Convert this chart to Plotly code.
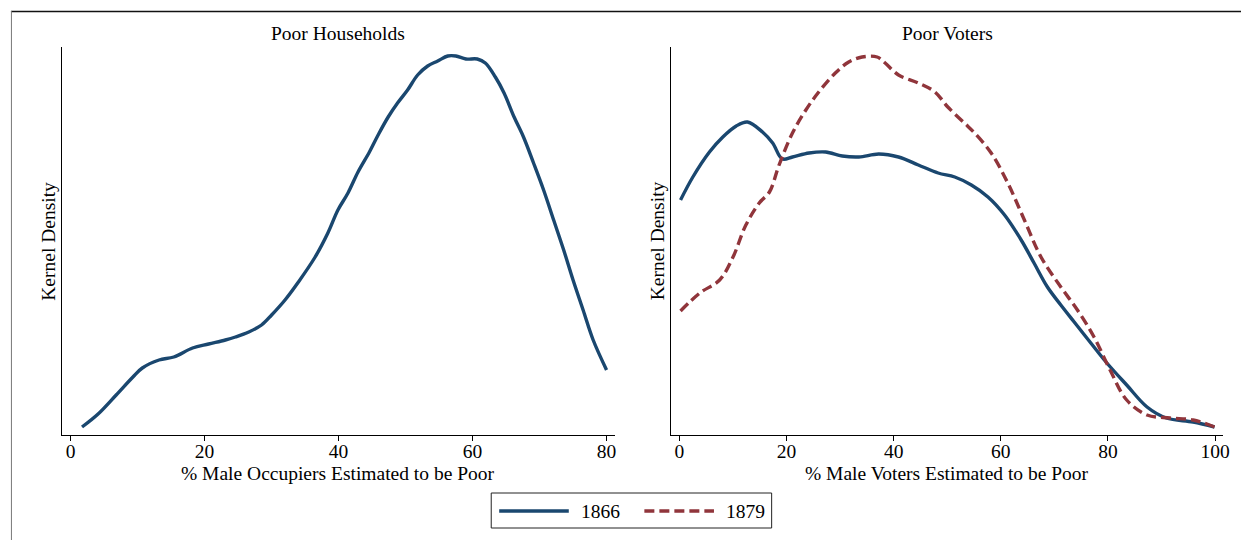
import plotly.graph_objects as go

# Kernel density estimates, share of men estimated to be poor (%)
hh_pct = [1.7, 4.1, 6.8, 9.3, 10.7, 13.2, 15.4, 18.2, 20.6, 23.1, 24.6, 26.6, 28.5, 30.0,
          32.0, 34.0, 36.5, 38.4, 39.9, 41.4, 42.9, 44.6, 45.9, 47.4, 48.8, 50.3, 51.8,
          53.3, 54.8, 56.3, 57.5, 59.0, 60.7, 61.9, 63.4, 64.7, 66.2, 67.6, 69.1, 70.6,
          72.1, 73.6, 75.0, 76.5, 78.0, 80.0]
hh_density = [0.0003, 0.00095, 0.0019, 0.0028, 0.00325, 0.00365, 0.0038, 0.00425, 0.00445,
              0.00465, 0.0048, 0.00505, 0.0054, 0.0059, 0.00665, 0.00755, 0.0088, 0.0100,
              0.01115, 0.0120, 0.01305, 0.01405, 0.0149, 0.0158, 0.0165, 0.01715, 0.0179,
              0.01835, 0.0186, 0.01885, 0.01885, 0.0187, 0.0187, 0.0185, 0.0178, 0.0170,
              0.0158, 0.0148, 0.0135, 0.01215, 0.01065, 0.00915, 0.00765, 0.00615, 0.00465,
              0.00315]

v1866_pct = [0.2, 2.5, 5.6, 8.1, 10.6, 12.7, 15.5, 17.4, 19.2, 21.1, 24.2, 27.3, 30.4, 33.5,
             37.2, 40.9, 44.6, 48.3, 51.4, 54.5, 57.6, 60.7, 63.8, 66.2, 68.7, 71.2, 73.7,
             76.8, 79.8, 83.5, 87.3, 90.9, 95.9, 99.9]
v1866_density = [0.01165, 0.0128, 0.01405, 0.0148, 0.01535, 0.01555, 0.01505, 0.0145, 0.0137,
                 0.0138, 0.0140, 0.01405, 0.01385, 0.0138, 0.01395, 0.0138, 0.0134, 0.0130,
                 0.0128, 0.0124, 0.0118, 0.0109, 0.00965, 0.0085, 0.0073, 0.0064, 0.00555,
                 0.0045, 0.0035, 0.0024, 0.0013, 0.00075, 0.00055, 0.0003]

v1879_pct = [0.2, 3.8, 7.5, 10.0, 12.4, 14.9, 16.8, 18.6, 21.1, 23.6, 26.0, 29.1, 31.6, 34.1,
             36.9, 38.4, 40.9, 44.6, 47.7, 50.1, 53.2, 55.1, 58.2, 61.3, 64.4, 67.5, 71.2,
             74.3, 77.4, 80.4, 83.5, 87.3, 91.6, 95.9, 99.9]
v1879_density = [0.0061, 0.0070, 0.00765, 0.0088, 0.0104, 0.0115, 0.01205, 0.0134, 0.0150,
                 0.01615, 0.01705, 0.0180, 0.01855, 0.0188, 0.0188, 0.0185, 0.0179, 0.0175,
                 0.01705, 0.0163, 0.0155, 0.0150, 0.0140, 0.0125, 0.01065, 0.0088, 0.0073,
                 0.00615, 0.0048, 0.00315, 0.00165, 0.0009, 0.00075, 0.00065, 0.0003]

left_ticks = [0, 20, 40, 60, 80]
right_ticks = [0, 20, 40, 60, 80, 100]
panel_titles = ["Poor Households", "Poor Voters"]
x_titles = ["% Male Occupiers Estimated to be Poor", "% Male Voters Estimated to be Poor"]
y_title = "Kernel Density"
legend_labels = ["1866", "1879"]

NAVY = "#1a476f"
MAROON = "#90353b"
FONT = "Liberation Serif"
FS = 19.5
W, H = 1248, 540


def px(x):
    return x / W


def py(y):
    return 1 - y / H


fig = go.Figure()
fig.add_trace(go.Scatter(x=hh_pct, y=hh_density, mode="lines", xaxis="x", yaxis="y",
                         line=dict(color=NAVY, width=3.4, shape="spline"), showlegend=False))
fig.add_trace(go.Scatter(x=v1866_pct, y=v1866_density, mode="lines", xaxis="x2", yaxis="y2",
                         line=dict(color=NAVY, width=3.4, shape="spline"), showlegend=False))
fig.add_trace(go.Scatter(x=v1879_pct, y=v1879_density, mode="lines", xaxis="x2", yaxis="y2",
                         line=dict(color=MAROON, width=3.4, dash="10px,5px", shape="spline"),
                         showlegend=False))

ydom = [py(435), py(47)]
axis_common = dict(showgrid=False, zeroline=False, showline=True, linecolor="black",
                   linewidth=1, ticks="outside", ticklen=5, tickcolor="black",
                   ticklabelstandoff=-6,
                   tickfont=dict(family=FONT, size=FS, color="black"))
yaxis_common = dict(showgrid=False, zeroline=False, showline=True, linecolor="black",
                    linewidth=1, showticklabels=False, ticks="", range=[-0.0001, 0.0193],
                    domain=ydom)

fig.update_layout(
    width=W, height=H, margin=dict(l=0, r=0, t=0, b=0),
    paper_bgcolor="white", plot_bgcolor="white",
    xaxis=dict(axis_common, domain=[px(62), px(618)], range=[-1.34, 81.19],
               tickvals=left_ticks, anchor="y"),
    yaxis=dict(yaxis_common, anchor="x"),
    xaxis2=dict(axis_common, domain=[px(675), px(1230)], range=[-1.54, 101.5],
                tickvals=right_ticks, anchor="y2"),
    yaxis2=dict(yaxis_common, anchor="x2"),
)

annotations = []
for cx, title, xt, yx in [(340, panel_titles[0], x_titles[0], 48),
                          (952.5, panel_titles[1], x_titles[1], 661)]:
    annotations.append(dict(x=px(cx), y=py(33), xref="paper", yref="paper", text=title,
                            showarrow=False, xanchor="center", yanchor="middle",
                            font=dict(family=FONT, size=FS, color="black")))
    annotations.append(dict(x=px(cx), y=py(473), xref="paper", yref="paper", text=xt,
                            showarrow=False, xanchor="center", yanchor="middle",
                            font=dict(family=FONT, size=FS, color="black")))
    annotations.append(dict(x=px(yx), y=py(241), xref="paper", yref="paper", text=y_title,
                            showarrow=False, textangle=-90, xanchor="center", yanchor="middle",
                            font=dict(family=FONT, size=FS, color="black")))

# legend box
annotations.append(dict(x=px(582), y=py(511), xref="paper", yref="paper", text=legend_labels[0],
                        showarrow=False, xanchor="left", yanchor="middle",
                        font=dict(family=FONT, size=FS, color="black")))
annotations.append(dict(x=px(728), y=py(511), xref="paper", yref="paper", text=legend_labels[1],
                        showarrow=False, xanchor="left", yanchor="middle",
                        font=dict(family=FONT, size=FS, color="black")))

shapes = [
    dict(type="line", xref="paper", yref="paper", x0=px(11), x1=1, y0=py(11.5), y1=py(11.5),
         line=dict(color="#111111", width=1.5)),
    dict(type="line", xref="paper", yref="paper", x0=px(11.5), x1=px(11.5), y0=py(11), y1=0,
         line=dict(color="#777777", width=1)),
    dict(type="rect", xref="paper", yref="paper", x0=px(494), x1=px(776), y0=py(528), y1=py(493),
         line=dict(color="#222222", width=1), fillcolor="white"),
    dict(type="line", xref="paper", yref="paper", x0=px(502), x1=px(572), y0=py(511), y1=py(511),
         line=dict(color=NAVY, width=3.4)),
    dict(type="line", xref="paper", yref="paper", x0=px(648), x1=px(718), y0=py(511), y1=py(511),
         line=dict(color=MAROON, width=3.4, dash="10px,5px")),
]

fig.update_layout(annotations=annotations, shapes=shapes)

# drop the default page margin so the figure sits flush in the window
page_setup = "document.body.style.margin = '0px';"
fig.write_html("out.html", post_script=page_setup)
